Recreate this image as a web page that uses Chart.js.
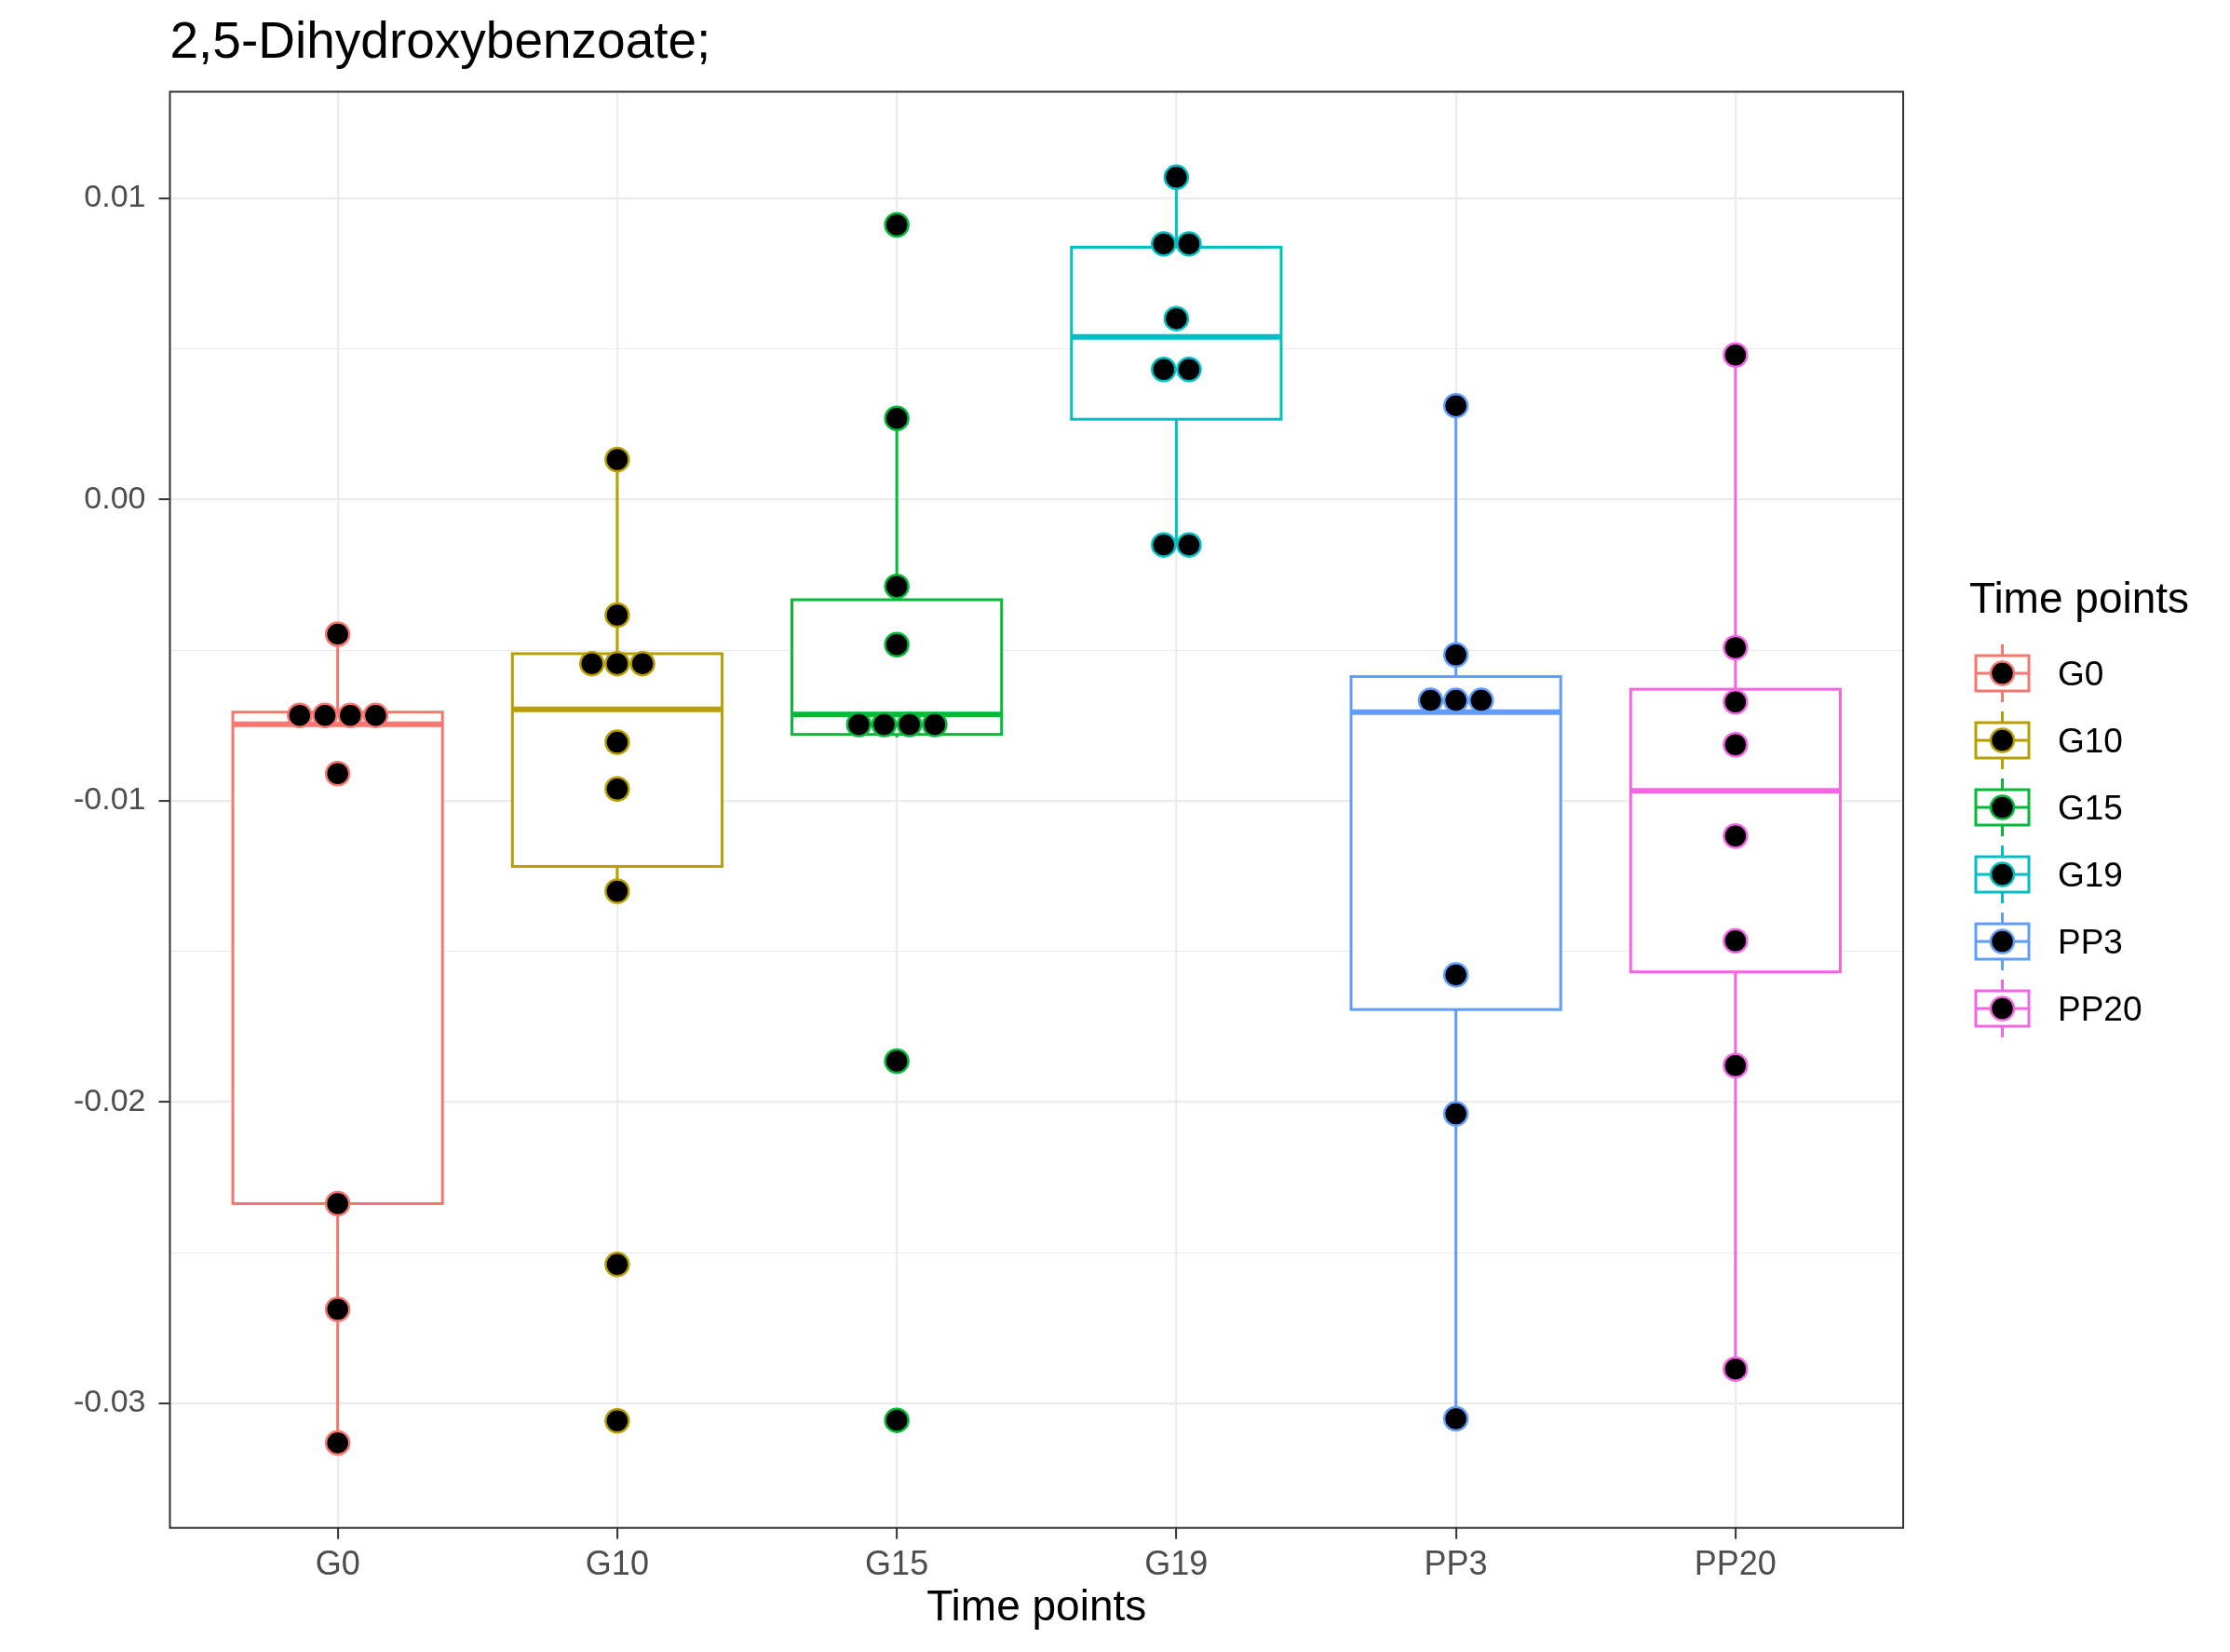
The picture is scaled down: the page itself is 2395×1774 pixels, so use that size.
<!DOCTYPE html>
<html>
<head>
<meta charset="utf-8">
<script src="https://cdn.jsdelivr.net/npm/chart.js@4/dist/chart.umd.min.js"></script>
<style>
  html, body { margin: 0; padding: 0; background: #ffffff; }
  canvas { display: block; }
</style>
</head>
<body>
<canvas id="boxChart" width="2395" height="1774"></canvas>
<script>
// categories and colours (ggplot hue palette)
const timePoints = ['G0', 'G10', 'G15', 'G19', 'PP3', 'PP20'];
const groupColors = ['#F8766D', '#B79F00', '#00BA38', '#00BFC4', '#619CFF', '#F564E3'];

// box statistics
const whiskerLow  = [-0.03131, -0.01300, -0.00790, -0.00151, -0.03051, -0.02886];
const q1          = [-0.02337, -0.01218, -0.00780,  0.00266, -0.01693, -0.01568];
const medians     = [-0.00746, -0.00697, -0.00714,  0.00539, -0.00706, -0.00967];
const q3          = [-0.00706, -0.00512, -0.00333,  0.00837, -0.00588, -0.00630];
const whiskerHigh = [-0.00447,  0.00132,  0.00269,  0.01069,  0.00311,  0.00479];

// dot values per group (equal values share one bin and sit side by side)
const dotsG0   = [-0.00447, -0.00717, -0.00717, -0.00717, -0.00717, -0.00910, -0.02337, -0.02688, -0.03131];
const dotsG10  = [0.00132, -0.00384, -0.00545, -0.00545, -0.00545, -0.00806, -0.00961, -0.01300, -0.02539, -0.03058];
const dotsG15  = [0.00911, 0.00269, -0.00289, -0.00482, -0.00747, -0.00747, -0.00747, -0.00747, -0.01864, -0.03056];
const dotsG19  = [0.01069, 0.00848, 0.00848, 0.00600, 0.00431, 0.00431, -0.00151, -0.00151];
const dotsPP3  = [0.00311, -0.00516, -0.00667, -0.00667, -0.00667, -0.01578, -0.02039, -0.03051];
const dotsPP20 = [0.00479, -0.00492, -0.00672, -0.00814, -0.01117, -0.01465, -0.01879, -0.02886];
const allDots = [dotsG0, dotsG10, dotsG15, dotsG19, dotsPP3, dotsPP20];

// axis ticks
const yMajorTicks = [-0.03, -0.02, -0.01, 0, 0.01];
const yTickLabels = ['-0.03', '-0.02', '-0.01', '0.00', '0.01'];
const yMinorTicks = [-0.025, -0.015, -0.005, 0.005];

const FONT = '"Liberation Sans", Arial, Helvetica, sans-serif';
const BOX_WIDTH = 0.75;
const DOT_STEP = 0.0906;

function dotPoints(values, pos) {
    const counts = {};
    values.forEach(v => { counts[v] = (counts[v] || 0) + 1; });
    const seen = {};
    return values.map(v => {
        const k = seen[v] || 0;
        seen[v] = k + 1;
        const off = (k - (counts[v] - 1) / 2) * DOT_STEP;
        return { x: pos + off, y: v };
    });
}

const datasets = timePoints.map((name, i) => ({
    label: name,
    data: dotPoints(allDots[i], i + 1),
    pointRadius: 12.5,
    pointHoverRadius: 12.5,
    pointBorderWidth: 2.5,
    pointBackgroundColor: '#000000',
    pointBorderColor: groupColors[i],
    showLine: false,
}));

const boxPlugin = {
    id: 'boxes',
    beforeDatasetsDraw(chart) {
        const { ctx, scales: { x, y } } = chart;
        ctx.save();
        ctx.lineCap = 'butt';
        timePoints.forEach((name, i) => {
            const c = x.getPixelForValue(i + 1);
            const l = x.getPixelForValue(i + 1 - BOX_WIDTH / 2);
            const r = x.getPixelForValue(i + 1 + BOX_WIDTH / 2);
            const yq1 = y.getPixelForValue(q1[i]);
            const yq3 = y.getPixelForValue(q3[i]);
            ctx.strokeStyle = groupColors[i];
            ctx.lineWidth = 3;
            // whiskers
            ctx.beginPath();
            ctx.moveTo(c, y.getPixelForValue(whiskerHigh[i]));
            ctx.lineTo(c, yq3);
            ctx.moveTo(c, yq1);
            ctx.lineTo(c, y.getPixelForValue(whiskerLow[i]));
            ctx.stroke();
            // box
            ctx.fillStyle = '#ffffff';
            ctx.fillRect(l, yq3, r - l, yq1 - yq3);
            ctx.strokeRect(l, yq3, r - l, yq1 - yq3);
            // median
            ctx.lineWidth = 6;
            ctx.beginPath();
            const ym = y.getPixelForValue(medians[i]);
            ctx.moveTo(l, ym);
            ctx.lineTo(r, ym);
            ctx.stroke();
        });
        ctx.restore();
    },
    afterDatasetsDraw(chart) {
        const { ctx, chartArea: a } = chart;
        ctx.save();
        ctx.strokeStyle = '#333333';
        ctx.lineWidth = 2;
        ctx.strokeRect(a.left, a.top, a.right - a.left, a.bottom - a.top);
        ctx.restore();
    },
    afterDraw(chart) {
        const { ctx, chartArea: a } = chart;
        ctx.save();
        ctx.fillStyle = '#000000';
        ctx.textBaseline = 'alphabetic';
        ctx.textAlign = 'left';
        ctx.font = '55px ' + FONT;
        ctx.fillText('2,5-Dihydroxybenzoate;', a.left, 62);

        // legend
        ctx.font = '46px ' + FONT;
        ctx.fillText('Time points', 2115, 658);
        const cx = 2150.5;
        timePoints.forEach((name, i) => {
            const cy = 723 + i * 72;
            ctx.strokeStyle = groupColors[i];
            ctx.lineWidth = 3;
            ctx.beginPath();
            ctx.moveTo(cx, cy - 31);
            ctx.lineTo(cx, cy - 19);
            ctx.moveTo(cx, cy + 19);
            ctx.lineTo(cx, cy + 31);
            ctx.moveTo(cx - 28.5, cy);
            ctx.lineTo(cx + 28.5, cy);
            ctx.stroke();
            ctx.strokeRect(cx - 28.5, cy - 19, 57, 38);
            ctx.beginPath();
            ctx.arc(cx, cy, 12.5, 0, Math.PI * 2);
            ctx.fillStyle = '#000000';
            ctx.fill();
            ctx.lineWidth = 2.5;
            ctx.stroke();
            ctx.fillStyle = '#000000';
            ctx.font = '37px ' + FONT;
            ctx.fillText(name, 2210, cy + 13);
        });
        ctx.restore();
    }
};

const isMajor = v => yMajorTicks.some(t => Math.abs(t - v) < 1e-9);

new Chart(document.getElementById('boxChart'), {
    type: 'scatter',
    data: { datasets },
    options: {
        responsive: false,
        animation: false,
        events: [],
        layout: { padding: { top: 98.5, right: 351, bottom: 0, left: 0 } },
        plugins: {
            legend: { display: false },
            title: { display: false },
            tooltip: { enabled: false },
        },
        scales: {
            x: {
                type: 'linear',
                min: 0.4,
                max: 6.6,
                afterBuildTicks: scale => {
                    scale.ticks = timePoints.map((n, i) => ({ value: i + 1 }));
                },
                afterFit: scale => { scale.height = 133.3; },
                ticks: {
                    autoSkip: false,
                    maxRotation: 0,
                    padding: 7,
                    color: '#4D4D4D',
                    font: { family: FONT, size: 36 },
                    callback: (value, index) => timePoints[index],
                },
                grid: {
                    color: '#EBEBEB',
                    lineWidth: 2.2,
                    tickColor: '#333333',
                    tickLength: 12,
                    tickWidth: 2,
                },
                border: { display: false },
                title: {
                    display: true,
                    text: 'Time points',
                    color: '#000000',
                    font: { family: FONT, size: 46 },
                    padding: { top: 0, bottom: 19 },
                },
            },
            y: {
                type: 'linear',
                min: -0.034131,
                max: 0.013529,
                afterBuildTicks: scale => {
                    scale.ticks = yMajorTicks.concat(yMinorTicks)
                        .sort((a, b) => a - b)
                        .map(v => ({ value: v }));
                },
                afterFit: scale => { scale.width = 182.5; },
                ticks: {
                    autoSkip: false,
                    padding: 14,
                    color: '#4D4D4D',
                    font: { family: FONT, size: 34 },
                    callback: value => {
                        const k = yMajorTicks.findIndex(t => Math.abs(t - value) < 1e-9);
                        return k >= 0 ? yTickLabels[k] : '';
                    },
                },
                grid: {
                    color: '#EBEBEB',
                    lineWidth: ctx => isMajor(ctx.tick.value) ? 2.2 : 1.1,
                    tickColor: ctx => isMajor(ctx.tick.value) ? '#333333' : 'rgba(0,0,0,0)',
                    tickLength: 12,
                    tickWidth: 2,
                },
                border: { display: false },
            },
        },
    },
    plugins: [boxPlugin],
});
</script>
</body>
</html>
